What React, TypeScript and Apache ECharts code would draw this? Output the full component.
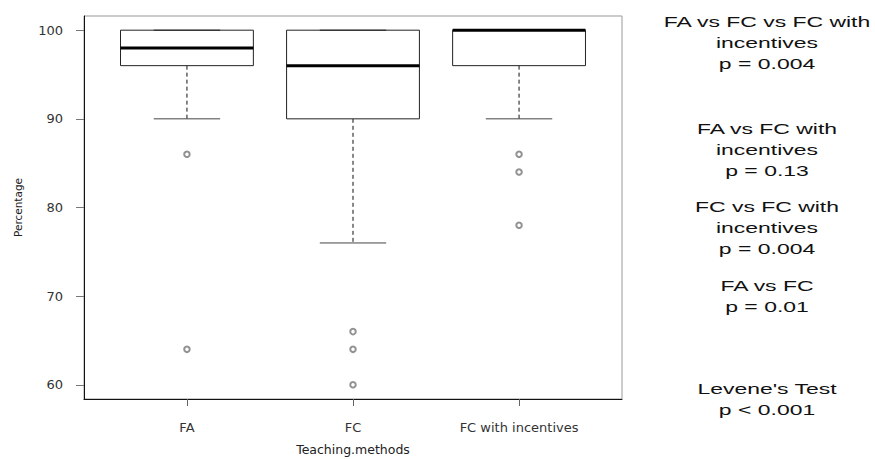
import React, { useEffect, useRef } from "react";
import * as echarts from "echarts";

const categories = ["FA", "FC", "FC with incentives"];
const lowerWhisker = [90, 76, 90];
const q1 = [96, 90, 96];
const medians = [98, 96, 100];
const q3 = [100, 100, 100];
const upperWhisker = [100, 100, 100];
const outliersFA = [86, 64];
const outliersFC = [66, 64, 60];
const outliersFCI = [86, 84, 78];
const yTicks = [60, 70, 80, 90, 100];
const xTicks = [1, 2, 3];
const testBlocks = [
  "FA vs FC vs FC with\nincentives\np = 0.004",
  "FA vs FC with\nincentives\np = 0.13",
  "FC vs FC with\nincentives\np = 0.004",
  "FA vs FC\np = 0.01",
  "Levene's Test\np < 0.001",
];
const testBlockY = [43, 150, 228, 296, 399];

export default function App() {
  const ref = useRef<HTMLDivElement>(null);
  useEffect(() => {
    if (!ref.current) return;
    const chart = echarts.init(ref.current, null, { renderer: "svg" });
    const boxData = categories.map((_, i) => [
      i + 1,
      lowerWhisker[i],
      q1[i],
      medians[i],
      q3[i],
      upperWhisker[i],
    ]);
    const outlierGroups = [outliersFA, outliersFC, outliersFCI];
    const outlierData: number[][] = [];
    outlierGroups.forEach((g, i) => g.forEach((v) => outlierData.push([i + 1, v])));

    const labelFont = "DejaVu Sans";
    chart.setOption({
      animation: false,
      backgroundColor: "#fff",
      grid: {
        left: 84,
        right: 253,
        top: 16,
        bottom: 60,
        outerBoundsMode: "none",
        containLabel: false,
        show: true,
        borderColor: "#999",
        borderWidth: 1,
        backgroundColor: "#fff",
      },
      xAxis: {
        type: "value",
        min: 0.38,
        max: 3.62,
        name: "Teaching.methods",
        nameLocation: "middle",
        nameGap: 44,
        nameTextStyle: { fontFamily: labelFont, fontSize: 12.5, color: "#222" },
        axisLine: { show: true, onZero: false, lineStyle: { color: "#111", width: 1 } },
        axisTick: {
          show: true,
          length: 7,
          customValues: xTicks,
          lineStyle: { color: "#666" },
        },
        axisLabel: {
          customValues: xTicks,
          margin: 22,
          fontFamily: labelFont,
          fontSize: 13,
          color: "#333",
          formatter: (v: number) => categories[Math.round(v) - 1] ?? "",
        },
        splitLine: { show: false },
      },
      yAxis: {
        type: "value",
        min: 58.4,
        max: 101.6,
        name: "Percentage",
        nameLocation: "middle",
        nameRotate: 90,
        nameGap: 61,
        nameTextStyle: { fontFamily: labelFont, fontSize: 10.5, color: "#222" },
        axisLine: { show: true, onZero: false, lineStyle: { color: "#111", width: 1 } },
        axisTick: {
          show: true,
          length: 8,
          customValues: yTicks,
          lineStyle: { color: "#777" },
        },
        axisLabel: {
          customValues: yTicks,
          margin: 21,
          fontFamily: labelFont,
          fontSize: 13,
          color: "#333",
        },
        splitLine: { show: false },
      },
      series: [
        {
          type: "custom",
          data: boxData,
          encode: { x: 0, y: [1, 2, 3, 4, 5] },
          renderItem: (params: any, api: any) => {
            const x = api.value(0);
            const pLW = api.coord([x, api.value(1)]);
            const pQ1 = api.coord([x, api.value(2)]);
            const pMed = api.coord([x, api.value(3)]);
            const pQ3 = api.coord([x, api.value(4)]);
            const pUW = api.coord([x, api.value(5)]);
            const hw = api.size([0.4, 0])[0];
            const cx = pMed[0];
            const capHW = hw / 2;
            return {
              type: "group",
              children: [
                {
                  type: "line",
                  shape: { x1: cx, y1: pQ1[1], x2: cx, y2: pLW[1] },
                  style: { stroke: "#111", lineWidth: 1, lineDash: [4, 3] },
                },
                {
                  type: "line",
                  shape: { x1: cx, y1: pQ3[1], x2: cx, y2: pUW[1] },
                  style: { stroke: "#111", lineWidth: 1, lineDash: [4, 3] },
                },
                {
                  type: "line",
                  shape: { x1: cx - capHW, y1: pLW[1], x2: cx + capHW, y2: pLW[1] },
                  style: { stroke: "#444", lineWidth: 1 },
                },
                {
                  type: "rect",
                  shape: { x: cx - hw, y: pQ3[1], width: hw * 2, height: pQ1[1] - pQ3[1] },
                  style: { fill: "#fff", stroke: "#222", lineWidth: 1 },
                },
                {
                  type: "line",
                  shape: { x1: cx - capHW, y1: pUW[1], x2: cx + capHW, y2: pUW[1] },
                  style: { stroke: "#222", lineWidth: 1 },
                },
                {
                  type: "line",
                  shape: { x1: cx - hw, y1: pMed[1], x2: cx + hw, y2: pMed[1] },
                  style: { stroke: "#000", lineWidth: 3 },
                },
              ],
            };
          },
          z: 2,
        },
        {
          type: "scatter",
          data: outlierData,
          symbol: "emptyCircle",
          symbolSize: 5.5,
          itemStyle: { color: "#777", borderColor: "#777", borderWidth: 0.8 },
          z: 3,
        },
      ],
      graphic: testBlocks.map((t, i) => ({
        type: "text",
        x: 767,
        y: testBlockY[i],
        scaleX: 1.53,
        style: {
          text: t,
          x: 0,
          y: 0,
          textAlign: "center",
          textVerticalAlign: "middle",
          fontFamily: "Liberation Sans",
          fontSize: 15,
          lineHeight: 21,
          fill: "#111",
        },
      })),
    });
    return () => chart.dispose();
  }, []);
  return (
    <div
      ref={ref}
      style={{ position: "fixed", left: 0, top: 0, width: 875, height: 459 }}
    />
  );
}
